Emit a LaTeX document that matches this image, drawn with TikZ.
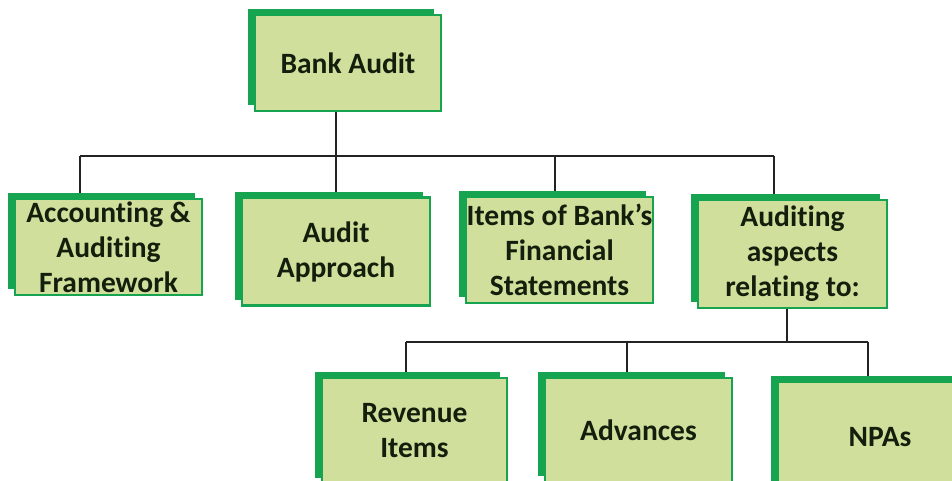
\documentclass[tikz,border=0pt]{standalone}
\usepackage{fontspec}
\setmainfont{Carlito}[Ligatures=NoCommon]
\usetikzlibrary{shadows,backgrounds}
\definecolor{boxfill}{RGB}{208,224,156}
\definecolor{boxgreen}{RGB}{22,164,80}
\definecolor{txt}{RGB}{20,30,12}
\definecolor{linec}{RGB}{35,35,35}
\begin{document}
\begin{tikzpicture}[x=1pt,y=-1pt,
  box/.style={draw=boxgreen, line width=2.4pt, fill=boxfill, text=txt,
    font=\fontsize{29.5}{35}\selectfont\bfseries, align=center, inner sep=0pt,
    general shadow={shadow xshift=-7pt, shadow yshift=6pt, fill=boxgreen, draw=none, opacity=1}},
  conn/.style={draw=linec, line width=2.2pt}]
\useasboundingbox (0,0) rectangle (952,481);
\clip (0,0) rectangle (952,481);
\node[box, minimum width=186pt, minimum height=96pt] (A) at (348,63) {Bank Audit};
\node[box, minimum width=187pt, minimum height=96pt] (B1) at (108.5,247) {Accounting \&\\Auditing\\Framework};
\node[box, minimum width=188pt, minimum height=108pt] (B2) at (336,251.5) {Audit\\Approach};
\node[box, minimum width=187pt, minimum height=106pt] (B3) at (559.5,250) {Items of Bank's\\Financial\\Statements};
\node[box, minimum width=189pt, minimum height=108pt] (B4) at (792.5,254) {Auditing\\aspects\\relating to:};
\node[box, minimum width=185pt, minimum height=106pt] (C1) at (414.5,431) {Revenue\\Items};
\node[box, minimum width=187pt, minimum height=104pt] (C2) at (638.5,430) {Advances};
\node[box, minimum width=204pt, minimum height=110pt] (C3) at (880,437) {NPAs};
\coordinate (j1) at (336,156);
\coordinate (bl) at (80,156);
\coordinate (br) at (774,156);
\coordinate (b2) at (336,156);
\coordinate (b3) at (555,156);
\coordinate (j2) at (787,342);
\coordinate (cl) at (406,342);
\coordinate (cm) at (627,342);
\coordinate (cr) at (868,342);
\begin{scope}[on background layer]
\fill[white] (0,0) rectangle (952,481);
\draw[conn] (j1 |- A.south) -- (j1);
\draw[conn] (bl) -- (br);
\draw[conn] (bl) -- (bl |- B1.north);
\draw[conn] (b2) -- (b2 |- B2.north);
\draw[conn] (b3) -- (b3 |- B3.north);
\draw[conn] (br) -- (br |- B4.north);
\draw[conn] (j2 |- B4.south) -- (j2);
\draw[conn] (cl) -- (cr);
\draw[conn] (cl) -- (cl |- C1.north);
\draw[conn] (cm) -- (cm |- C2.north);
\draw[conn] (cr) -- (cr |- C3.north);
\end{scope}
\end{tikzpicture}
\end{document}
